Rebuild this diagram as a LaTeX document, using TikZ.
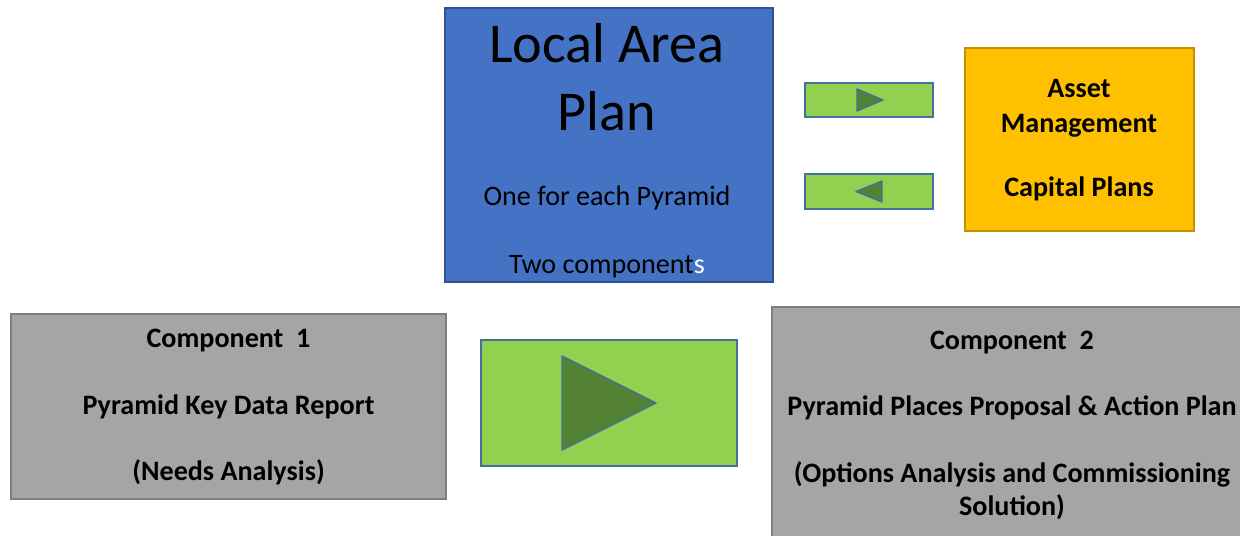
\documentclass[tikz,border=0pt]{standalone}
\usepackage{fontspec}
\setmainfont{Carlito}
\usetikzlibrary{calc}

\definecolor{planblue}{HTML}{4472C4}
\definecolor{planblueline}{HTML}{2F528F}
\definecolor{assetorange}{HTML}{FFC000}
\definecolor{assetline}{HTML}{C09200}
\definecolor{compgrey}{HTML}{A5A5A5}
\definecolor{compline}{HTML}{7F7F7F}
\definecolor{flowgreen}{HTML}{92D050}
\definecolor{flowline}{HTML}{41719C}
\definecolor{tipgreen}{HTML}{548235}

\tikzset{
  box/.style={draw, line width=1pt, inner sep=0pt},
  flow/.style={box, fill=flowgreen, draw=flowline},
  tip/.style={fill=tipgreen, draw=flowline, line width=0.8pt, line join=round},
  txt/.style={align=center, inner sep=0pt, text=black},
  small/.style={txt, font=\fontsize{16}{#1}\selectfont},
  boldtxt/.style={txt, font=\fontsize{16}{#1}\selectfont\bfseries}
}

\begin{document}
\begin{tikzpicture}[x=0.02cm, y=-0.02cm]
  \useasboundingbox (0,0) rectangle (1240,536);

  % Plan
  \node[box, fill=planblue, draw=planblueline, minimum width=6.56cm, minimum height=5.48cm] (plan) at (609,145) {};
  \node[txt, font=\fontsize{32}{38.5}\selectfont] (plantitle) at (607,77.5) {Local Area\\Plan};
  \node[small=39] (plannote) at (607,232) {One for each Pyramid\\Two component{\color{white}s}};

  % Asset management
  \node[box, fill=assetorange, draw=assetline, minimum width=4.58cm, minimum height=3.66cm] (asset) at (1079.5,139.5) {};
  \node[boldtxt=19.8] (assettxt) at (1079,140) {Asset\\Management\\[16.5pt]Capital Plans};

  % small arrows
  \node[flow, minimum width=2.56cm, minimum height=0.68cm] (toasset) at (869,100) {};
  \node[flow, minimum width=2.56cm, minimum height=0.70cm] (fromasset) at (869,191.5) {};
  \draw[tip] ($(toasset.center)+(-12,-11)$) -- ($(toasset.center)+(14,0)$) -- ($(toasset.center)+(-12,11)$) -- cycle;
  \draw[tip] ($(fromasset.center)+(13,-10.5)$) -- ($(fromasset.center)+(-13,0)$) -- ($(fromasset.center)+(13,10.5)$) -- cycle;

  % Components
  \node[box, fill=compgrey, draw=compline, minimum width=8.7cm, minimum height=3.7cm] (compone) at (228.5,406.5) {};
  \node[boldtxt=38] (componetxt) at (228.5,407) {Component\ \ 1\\Pyramid Key Data Report\\(Needs Analysis)};

  \node[box, fill=compgrey, draw=compline, minimum width=9.56cm, minimum height=4.76cm] (comptwo) at (1011,426) {};
  \node[boldtxt=19.3] (comptwotxt) at (1012,425.5) {Component\ \ 2\\[18.5pt]Pyramid Places Proposal \& Action Plan\\[18.5pt](Options Analysis and Commissioning\\Solution)};

  % big arrow
  \node[flow, minimum width=5.12cm, minimum height=2.52cm] (next) at (609,403) {};
  \draw[tip] ($(next.center)+(-47,-47)$) -- ($(next.center)+(47,0)$) -- ($(next.center)+(-47,47)$) -- cycle;
\end{tikzpicture}
\end{document}
